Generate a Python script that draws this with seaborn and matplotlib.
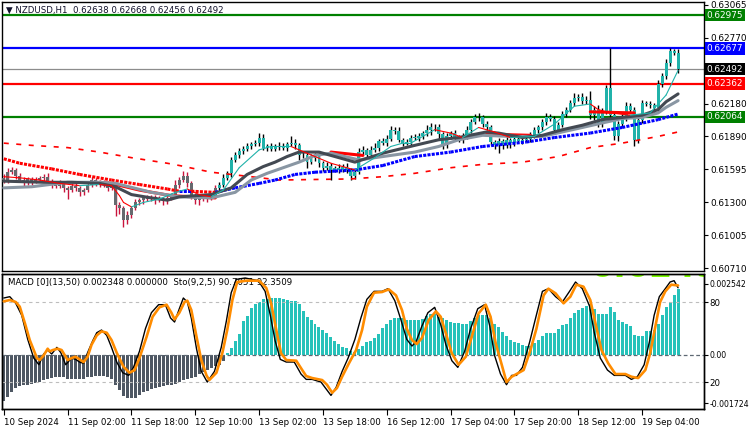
import numpy as np
import pandas as pd
import seaborn as sns
import matplotlib
matplotlib.use("Agg")
from matplotlib import pyplot as plt
from matplotlib.transforms import blended_transform_factory

# NZDUSD H1 closes, in pips (x 0.0001), one per hourly bar
closes = [
    6150, 6157, 6159, 6154, 6150, 6148, 6151, 6149, 6150, 6152,
    6153, 6149, 6146, 6145, 6147, 6143, 6141, 6145, 6143, 6139,
    6141, 6146, 6150, 6148, 6146, 6147, 6143, 6145, 6128, 6125,
    6114, 6119, 6125, 6130, 6132, 6134, 6133, 6135, 6132, 6133,
    6131, 6134, 6136, 6146, 6150, 6154, 6147, 6136, 6132, 6134,
    6133, 6135, 6136, 6143, 6146, 6152, 6156, 6168, 6172, 6176,
    6178, 6180, 6182, 6183, 6188, 6179, 6180, 6178, 6180, 6180,
    6179, 6182, 6183, 6181, 6172, 6172, 6166, 6170, 6172, 6165,
    6161, 6163, 6159, 6161, 6159, 6162, 6159, 6154, 6157, 6175,
    6177, 6172, 6177, 6179, 6185, 6183, 6187, 6195, 6194, 6186,
    6183, 6184, 6188, 6188, 6189, 6192, 6195, 6197, 6197, 6191,
    6182, 6189, 6192, 6188, 6186, 6189, 6195, 6202, 6206, 6206,
    6200, 6197, 6184, 6181, 6185, 6181, 6186, 6183, 6187, 6185,
    6186, 6187, 6190, 6195, 6197, 6202, 6206, 6205, 6195, 6199,
    6209, 6213, 6219, 6223, 6224, 6221, 6222, 6208, 6213, 6200,
    6211, 6232, 6208, 6189, 6200, 6206, 6216, 6213, 6186, 6204,
    6219, 6218, 6217, 6214, 6236, 6243, 6255, 6265, 6264, 6249,
]
first_open = 6152

# wick lengths above / below the body, in pips
wick_up = [
    3, 4, 3, 2, 2, 3, 2, 2, 3, 2,  2, 3, 2, 2, 3, 2, 2, 2, 3, 2,
    2, 3, 3, 2, 2, 3, 2, 2, 2, 2,  2, 3, 2, 3, 2, 2, 3, 2, 2, 3,
    2, 3, 2, 4, 3, 4, 3, 2, 2, 2,  3, 2, 2, 3, 2, 3, 2, 3, 3, 3,
    2, 3, 2, 3, 4, 3, 2, 3, 2, 4,  3, 2, 6, 4, 2, 3, 2, 3, 2, 2,
    2, 3, 2, 2, 3, 2, 3, 2, 2, 4,  3, 2, 3, 4, 2, 3, 3, 3, 2, 3,
    2, 3, 2, 3, 3, 2, 4, 4, 3, 3,  2, 3, 2, 3, 2, 3, 3, 3, 3, 4,
    2, 3, 2, 2, 3, 2, 3, 2, 3, 2,  3, 2, 3, 2, 2, 3, 4, 3, 2, 3,
    3, 2, 3, 5, 3, 4, 3, 8, 3, 4,  3, 3, 36, 2, 3, 3, 4, 3, 2, 3,
    3, 2, 3, 2, 3, 3, 3, 3, 2, 3,
]
wick_dn = [
    3, 3, 2, 3, 2, 3, 2, 3, 2, 2,  3, 2, 3, 2, 2, 4, 8, 2, 3, 3,
    2, 2, 2, 3, 2, 2, 3, 2, 10, 5,  6, 3, 3, 2, 2, 3, 2, 2, 3, 2,
    3, 2, 2, 2, 3, 2, 3, 3, 3, 4,  2, 3, 3, 2, 3, 2, 2, 3, 2, 2,
    3, 2, 2, 2, 3, 2, 3, 2, 2, 3,  2, 3, 2, 3, 4, 2, 5, 2, 3, 3,
    3, 2, 9, 2, 3, 2, 3, 4, 3, 2,  3, 3, 2, 2, 3, 2, 3, 2, 3, 2,
    3, 2, 3, 2, 3, 2, 3, 5, 3, 4,  4, 3, 2, 3, 2, 3, 2, 3, 2, 3,
    3, 2, 3, 3, 7, 3, 2, 4, 3, 2,  3, 2, 3, 2, 3, 2, 3, 2, 3, 2,
    2, 3, 2, 3, 2, 3, 3, 3, 4, 3,  3, 2, 3, 3, 4, 3, 3, 2, 6, 3,
    3, 2, 3, 3, 2, 3, 3, 3, 2, 3,
]

# MACD(13,50) histogram, x 0.00001
macd_hist = [
    -165, -151, -133, -119, -110, -107, -105, -104, -101, -95,
    -88, -84, -81, -79, -79, -80, -84, -86, -86, -86,
    -84, -80, -77, -74, -74, -74, -77, -86, -106, -124,
    -145, -152, -154, -152, -141, -133, -127, -121, -118, -114,
    -110, -107, -106, -102, -95, -90, -86, -82, -77, -68,
    -59, -52, -46, -40, -34, -20, 8, 24, 50, 75,
    120, 140, 168, 180, 190, 198, 200, 204, 204, 204,
    200, 194, 192, 192, 182, 155, 137, 124, 112, 100,
    90, 80, 65, 50, 40, 30, 24, 15, 12, 20,
    33, 45, 50, 60, 75, 95, 112, 124, 130, 130,
    130, 126, 126, 126, 126, 128, 138, 145, 147, 135,
    130, 124, 118, 115, 115, 112, 112, 120, 132, 141,
    141, 141, 130, 112, 98, 82, 68, 55, 48, 41,
    35, 32, 32, 41, 53, 67, 77, 77, 80, 92,
    106, 112, 130, 149, 159, 168, 175, 182, 165, 147,
    147, 147, 171, 153, 126, 118, 112, 102, 71, 67,
    67, 86, 86, 88, 112, 141, 171, 188, 212, 235,
]

# moving averages (bar index, price in pips)
dark_i = [0, 10, 17, 24, 28, 32, 37, 41, 44, 52, 57, 61, 65, 68, 71, 74, 79, 82,
          88, 95, 103, 109, 114, 121, 124, 130, 135, 140, 145, 150, 155, 160, 164, 166, 169]
dark_p = [6149, 6148, 6148, 6147, 6144, 6137, 6134, 6132, 6135, 6137, 6143, 6155, 6162,
          6166, 6171, 6175, 6175, 6172, 6166, 6174, 6181, 6186, 6188, 6193, 6192, 6188,
          6190, 6195, 6199, 6204, 6206, 6208, 6213, 6220, 6227]
light_i = [0, 7, 16, 24, 28, 37, 44, 52, 58, 62, 66, 70, 74, 78, 82, 89, 95, 103, 109,
           114, 120, 127, 135, 140, 145, 150, 155, 160, 164, 166, 169]
light_p = [6143, 6144, 6148, 6148, 6147, 6139, 6135, 6134, 6139, 6150, 6156, 6161, 6166,
           6172, 6174, 6168, 6171, 6175, 6180, 6186, 6190, 6189, 6189, 6193, 6197, 6201,
           6205, 6206, 6210, 6215, 6221]
thin_i = [0, 4, 9, 14, 19, 24, 27, 29, 30, 32, 35, 39, 43, 46, 49, 52, 55, 59, 64, 67,
          72, 74, 82, 88, 93, 97, 100, 102, 108, 112, 115, 119, 123, 127, 133, 138, 143,
          147, 149, 152, 157, 162, 166, 169]
thin_p = [6153, 6152, 6150, 6147, 6145, 6146, 6145, 6136, 6130, 6126, 6130, 6133, 6139,
          6142, 6137, 6135, 6141, 6161, 6177, 6180, 6180, 6177, 6165, 6159, 6170, 6180,
          6183, 6183, 6195, 6192, 6188, 6197, 6193, 6188, 6189, 6200, 6216, 6218, 6213,
          6210, 6208, 6210, 6226, 6248]
dot_i = [0, 4, 12, 19, 27, 34, 41, 44, 47, 53, 58, 64, 68, 73, 78, 83, 88, 95, 103,
         112, 120, 131, 138, 147, 155, 164, 169]
dot_p = [6169, 6165, 6160, 6155, 6150, 6146, 6142, 6140, 6140, 6139, 6143, 6147, 6150,
         6155, 6157, 6158, 6159, 6163, 6171, 6175, 6180, 6184, 6188, 6192, 6197, 6204, 6209]
dash_i = [0, 7, 16, 24, 32, 41, 44, 52, 62, 69, 87, 95, 103, 112, 120, 130, 139, 147,
          155, 164, 169]
dash_p = [6183, 6181, 6179, 6175, 6170, 6165, 6163, 6157, 6153, 6150, 6151, 6153, 6156,
          6161, 6164, 6166, 6171, 6179, 6183, 6189, 6193]
step_i = [24, 27, 34, 42, 53, np.nan, 82, 90, np.nan, 121, 132, np.nan, 147, 158]
step_p = [6148, 6147, 6141, 6136, 6134, np.nan, 6175, 6172, np.nan, 6191, 6190, np.nan,
          6211, 6210]

# stochastic (9,2,5)
sig_i = [0, 1.5, 3, 4, 5.3, 6.5, 8.3, 9, 10, 11, 11.5, 12.3, 13.5, 14.5, 15.3, 16, 17, 18,
         19, 20, 21, 22, 23.3, 24.5, 25.8, 27, 28.3, 30, 31.5, 32.8, 34, 35.8, 37.3, 39,
         40.8, 42, 42.8, 44, 45.3, 46, 47, 48.3, 49.5, 50.8, 51.5, 53.3, 54.8, 56, 57.3,
         58.5, 60.8, 64, 65.8, 67, 68.3, 69.5, 70.8, 73.3, 74.8, 75.8, 77.3, 79.8, 81,
         82.3, 83.5, 84.8, 86.5, 88.3, 89.8, 91, 92.8, 94.8, 96.5, 98.3, 99.8, 101, 102.3,
         103.5, 104.8, 106.5, 108.3, 109.5, 110.8, 112.3, 114, 115.8, 117.3, 119, 120.8,
         122, 123.3, 124.8, 126, 127.3, 128.5, 130.3, 132, 133.5, 135.3, 136.5, 138.3,
         140.3, 142, 143.5, 145.3, 147, 148.3, 149.8, 151.5, 153.3, 155.8, 157.3, 159,
         160.8, 162, 163.3, 164.5, 165.8, 167.3, 169]
sig_v = [80.5, 81.5, 80, 76.5, 64, 51.5, 38, 36.5, 40, 45, 43, 44, 45, 44, 40, 36.5, 38,
         39, 37, 35, 39, 48, 55, 58, 57, 51.5, 42, 31.5, 27, 29, 38, 54, 69, 76, 78, 72,
         67, 72, 80, 81, 74, 54, 36.5, 25, 21.5, 27, 42, 59, 81.5, 95, 96, 96, 90.5, 79,
         59, 41.5, 36.5, 36, 29, 24.5, 23, 21.5, 18, 12, 15.5, 24, 34, 44, 59, 76.5, 87,
         87.5, 89.5, 85, 74, 60, 51.5, 48.5, 53, 66.5, 73, 69, 56.5, 41.5, 33, 39, 54,
         71.5, 78, 69, 49, 33, 20, 24, 26, 29, 44, 60, 85, 90, 86.5, 79, 84, 93, 91.5,
         81.5, 64, 44, 34, 26, 26, 24, 23, 29, 41.5, 61.5, 80, 88, 93, 92.4]
main_i = [0, 1.5, 3, 4.5, 6, 7.5, 8.8, 10, 11, 12, 13.3, 14.3, 15.5, 17, 18, 19, 20, 21,
          22.3, 23.3, 24.5, 25.8, 27, 28.3, 29.8, 31.3, 32.5, 34, 35.5, 37, 38.8, 40.5,
          41.8, 42.8, 44, 45, 46, 47, 48.3, 49.5, 51, 52.8, 54.5, 55.8, 57, 58.3, 60.5,
          63.8, 65.5, 66.8, 68, 69.3, 70.8, 72.8, 74.5, 75.8, 77.3, 79.5, 81, 82, 83.3,
          84.8, 86.3, 88, 89.5, 91, 92.8, 94.8, 96.3, 98, 99.5, 101, 102.3, 103.3, 104.8,
          106.3, 108, 109.5, 110.8, 112.3, 113.8, 115.5, 117, 118.8, 120.5, 121.8, 123,
          124.5, 126, 127.3, 128.5, 130, 131.8, 133.3, 135, 136.5, 138.3, 140, 141.8,
          143.3, 145, 146.8, 148, 149.5, 151.3, 153, 155.8, 157.3, 158.8, 160.5, 161.8,
          163, 164.3, 165.8, 167, 168, 169]
main_v = [83, 84, 79, 70, 52, 38, 33, 41, 44, 41, 46, 42, 33, 38, 37, 35, 34, 42, 51, 57,
          59, 55, 46, 35, 27, 25, 31, 43, 60, 72, 78, 78, 68, 65, 75, 83, 80, 68, 45, 28,
          20, 28, 46, 66, 87, 97, 98, 96, 88, 70, 51, 37, 35, 35, 26, 22, 22, 20, 14, 10,
          16, 28, 38, 52, 68, 82, 88, 88, 90, 81, 67, 52, 47, 50, 62, 72, 76, 63, 48, 36,
          31, 43, 60, 75, 78, 62, 40, 26, 18, 25, 25, 31, 50, 68, 88, 90, 84, 80, 88, 95,
          90, 77, 57, 38, 29, 25, 25, 22, 24, 33, 50, 70, 84, 90, 95, 96, 90.7]

levels = [0.62975, 0.62677, 0.62362, 0.62064]
last_price = 0.62492
price_ticks = [0.63065, 0.62770, 0.62180, 0.61890, 0.61595, 0.61300, 0.61005, 0.60710]
time_labels = ["10 Sep 2024", "11 Sep 02:00", "11 Sep 18:00", "12 Sep 10:00",
               "13 Sep 02:00", "13 Sep 18:00", "16 Sep 12:00", "17 Sep 04:00",
               "17 Sep 20:00", "18 Sep 12:00", "19 Sep 04:00"]

sns.set_style("white")
plt.rcParams['font.family'] = ['DejaVu Sans']

# build OHLC frame
df = pd.DataFrame({'close': np.array(closes) / 1e4})
df['open'] = df['close'].shift(1).fillna(first_open / 1e4)
df['high'] = df[['open', 'close']].max(axis=1) + np.array(wick_up) / 1e4
df['low'] = df[['open', 'close']].min(axis=1) - np.array(wick_dn) / 1e4
bars = np.arange(len(df))
bull_from = 54

fig = plt.figure(figsize=(7.5, 4.3), dpi=100)
ax = fig.add_axes([2/750, 1 - 271/430, 702/750, 269/430])
ax2 = fig.add_axes([2/750, 1 - 409/430, 702/750, 135/430])
ax3 = ax2.twinx()
xlim = (-0.45, 175.5)

# horizontal levels
for lv, col in zip(levels, ['#008000', '#0000FF', '#FF0000', '#008000']):
    ax.axhline(lv, color=col, lw=1.6, zorder=1)
ax.axhline(last_price, color='#8C8C8C', lw=0.9, zorder=1)

# candles
body_col = np.where(bars < bull_from, '#66696E', '#20B2AA')
wick_col = np.where(bars < bull_from, '#C8143C', '#000000')
ax.vlines(bars, df['low'], df['high'], colors=wick_col, lw=1, zorder=2)
ax.bar(bars, np.maximum((df['close'] - df['open']).abs(), 0.00008),
       bottom=df[['open', 'close']].min(axis=1), width=0.74, color=body_col,
       linewidth=0, zorder=3)

# long MAs
ax.plot(dash_i, np.array(dash_p) / 1e4, color='red', lw=1.2,
        linestyle=(0, (3, 4.5)), zorder=4)
for k in range(len(dot_i) - 1):
    col = '#0000FF' if dot_p[k + 1] >= dot_p[k] else '#FF0000'
    ax.plot(dot_i[k:k + 2], np.array(dot_p[k:k + 2]) / 1e4, color=col, lw=2.2,
            linestyle=(0, (1, 0.4)), dash_capstyle='butt', zorder=4)
ax.plot(step_i, np.array(step_p) / 1e4, color='#FF0000', lw=2.2, zorder=4)
sns.lineplot(x=light_i, y=np.array(light_p) / 1e4, ax=ax, color='#8996A3',
             linewidth=2.2, zorder=5, legend=False)
sns.lineplot(x=dark_i, y=np.array(dark_p) / 1e4, ax=ax, color='#434952',
             linewidth=2.2, zorder=5, legend=False)
for k in range(len(thin_i) - 1):
    col = '#20B2AA' if thin_p[k + 1] >= thin_p[k] else '#FF0000'
    ax.plot(thin_i[k:k + 2], np.array(thin_p[k:k + 2]) / 1e4, color=col, lw=0.8, zorder=6)

ax.set_xlim(*xlim)
ax.set_ylim(0.606868, 0.630918)
ax.set_xticks([])
ax.set_xlabel("")
ax.set_ylabel("")
ax.yaxis.tick_right()
ax.set_yticks(price_ticks)
ax.set_yticklabels([f"{t:.5f}" for t in price_ticks])
ax.tick_params(axis='y', right=True, left=False, length=3, width=0.8, pad=1.5,
               labelsize=6.4, direction='out', colors='black')

trans = blended_transform_factory(ax.transAxes, ax.transData)
for lv, col in zip(levels + [last_price],
                   ['#008000', '#0000FF', '#FF0000', '#008000', '#000000']):
    ax.text(1.004, lv, f"{lv:.5f}", transform=trans, ha='left', va='center',
            fontsize=6.4, color='white', clip_on=False, zorder=10,
            bbox=dict(boxstyle='square,pad=0.2', fc=col, ec='none'))

ax.text(4/702, 1 - 8/269, "\u25bc NZDUSD,H1  0.62638 0.62668 0.62456 0.62492",
        transform=ax.transAxes, ha='left', va='center', fontsize=6.2, color='#10102A')

# MACD histogram
hist = np.array(macd_hist) / 1e5
ax2.bar(bars, hist, width=0.75, color=np.where(hist > 0, '#26C2BA', '#4E5763'),
        linewidth=0, zorder=2)
ax2.axhline(0, color='#5E6873', lw=0.9, linestyle=(0, (3, 2)), zorder=3)
ax2.set_xlim(*xlim)
ax2.set_ylim(-0.001922, 0.002883)
ax2.yaxis.tick_right()
ax2.set_yticks([0.002542, 0.0, -0.001724])
ax2.set_yticklabels(["0.002542", "0.00", "-0.001724"])
ax2.tick_params(axis='y', right=True, left=False, labelright=True, labelleft=False,
                length=3, width=0.8, pad=1, labelsize=5.6, direction='out',
                colors='black')
ax2.set_xticks(np.arange(0, 161, 16))
ax2.set_xticklabels(time_labels, ha='left')
ax2.tick_params(axis='x', bottom=True, length=4, width=0.8, pad=2.5, labelsize=6.2,
                direction='out', colors='black')
ax2.text(0.838, 0.978, "0.6249", transform=ax2.transAxes, ha='left', va='baseline',
         fontsize=24, fontweight='bold', color='#7CFC00', clip_on=True, zorder=1)

# stochastic on the twin scale
ax3.set_ylim(-0.2, 101)
ax3.axhline(80, color='#BDBDBD', lw=0.8, linestyle=(0, (3, 3)))
ax3.axhline(20, color='#BDBDBD', lw=0.8, linestyle=(0, (3, 3)))
sns.lineplot(x=main_i, y=main_v, ax=ax3, color='black', linewidth=1.0, zorder=3,
             legend=False)
sns.lineplot(x=sig_i, y=sig_v, ax=ax3, color='#FF8C00', linewidth=1.9, zorder=4,
             legend=False)
ax3.set_xlim(*xlim)
ax3.set_yticks([80, 20])
ax3.set_yticklabels(["80", "20"])
ax3.set_ylabel("")
ax3.tick_params(axis='y', right=True, left=False, labelright=True, labelleft=False,
                length=3, width=0.8, pad=1, labelsize=6.2, direction='out',
                colors='black')
ax2.text(6/702, 1 - 9/135, "MACD [0](13,50) 0.002348 0.000000  Sto(9,2,5) 90.7051 92.3509",
         transform=ax2.transAxes, ha='left', va='center', fontsize=6.2, color='black',
         zorder=10)

for a in (ax, ax2, ax3):
    for s in a.spines.values():
        s.set_color('black')
        s.set_linewidth(1.0)

fig.savefig("out.png", dpi=100)
